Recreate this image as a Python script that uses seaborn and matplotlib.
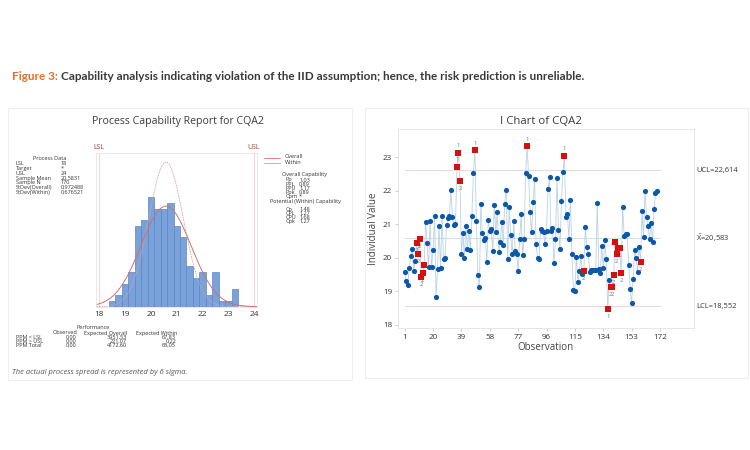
import numpy as np
import matplotlib
matplotlib.use("Agg")
import matplotlib.pyplot as plt
import seaborn as sns
from matplotlib.patches import Rectangle

# ---- data ----
cqa2 = [19.56, 19.30, 19.19, 19.68, 20.04, 20.25, 19.61, 19.90, 20.44, 20.11,
        20.56, 19.43, 19.55, 19.77, 21.07, 20.44, 19.71, 21.10, 19.72, 20.23,
        21.24, 18.84, 19.66, 20.94, 19.68, 21.24, 19.97, 19.98, 20.97, 21.18,
        21.26, 22.04, 21.21, 20.98, 21.01, 22.72, 23.13, 22.29, 20.11, 20.75,
        20.00, 20.96, 20.25, 20.79, 20.23, 21.24, 22.54, 23.21, 21.11, 19.47,
        19.12, 21.61, 20.73, 20.53, 20.60, 19.88, 21.13, 20.79, 20.85, 20.19,
        21.59, 20.76, 21.36, 20.16, 20.47, 21.07, 20.38, 21.62, 22.03, 19.96,
        21.51, 20.68, 20.10, 21.11, 20.21, 20.10, 19.59, 20.56, 21.30, 20.07,
        20.56, 22.53, 23.33, 22.45, 21.38, 20.76, 21.67, 22.36, 20.42, 19.99,
        19.97, 20.86, 20.81, 20.76, 20.40, 20.81, 22.06, 22.41, 20.81, 20.88,
        19.84, 20.56, 22.39, 20.84, 20.25, 21.69, 22.55, 23.04, 21.22, 21.32,
        20.57, 21.73, 20.12, 19.05, 19.02, 20.03, 19.27, 19.59, 20.06, 19.52,
        19.60, 20.92, 20.33, 20.12, 19.56, 19.64, 19.63, 19.63, 19.64, 21.65,
        19.66, 19.55, 20.34, 19.69, 20.52, 19.96, 18.47, 19.34, 19.13, 19.13,
        19.49, 20.47, 20.10, 20.30, 20.28, 19.53, 21.53, 20.66, 20.70, 20.72,
        19.79, 19.07, 18.64, 19.38, 20.24, 19.99, 19.57, 20.33, 19.88, 21.41,
        20.63, 22.01, 21.22, 20.94, 20.56, 21.05, 20.47, 21.45, 21.93, 22.00]

# failed tests: observation -> test number
flags = {9: "2", 10: "2", 11: "2", 12: "2", 13: "2", 14: "2",
         36: "1", 37: "1", 38: "2", 48: "1", 83: "1", 108: "1", 121: "2",
         137: "1", 139: "2", 140: "2", 141: "2", 142: "2", 143: "2",
         144: "2", 145: "2", 146: "2", 159: "2"}

ucl, xbar, lcl = 22.614, 20.583, 18.552
obs_ticks = [1, 20, 39, 58, 77, 96, 115, 134, 153, 172]

lsl, usl = 18, 24
mean_cqa2 = 20.5831
sd_overall = 0.972488
sd_within = 0.676521
bin_centers = [18.5, 18.75, 19.0, 19.25, 19.5, 19.75, 20.0, 20.25, 20.5, 20.75,
               21.0, 21.25, 21.5, 21.75, 22.0, 22.25, 22.5, 22.75, 23.0, 23.25]
bin_counts = [1, 2, 4, 6, 14, 15, 19, 17, 17, 18, 14, 12, 7, 5, 6, 2, 6, 1, 1, 3]

process_labels = ["LSL", "Target", "USL", "Sample Mean", "Sample N",
                  "StDev(Overall)", "StDev(Within)"]
process_values = ["18", "*", "24", "20,5831", "170", "0,972488", "0,676521"]
overall_labels = ["Pp", "PPL", "PPU", "Ppk", "Cpm"]
overall_values = ["1,03", "0,89", "1,17", "0,89", "*"]
within_labels = ["Cp", "CPL", "CPU", "Cpk"]
within_values = ["1,48", "1,27", "1,68", "1,27"]
perf_rows = ["PPM < LSL", "PPM > USL", "PPM Total"]
perf_observed = ["0,00", "0,00", "0,00"]
perf_exp_overall = ["3951,53", "221,07", "4172,60"]
perf_exp_within = ["67,83", "0,22", "68,05"]

W, H = 750, 450
sns.set_theme(style="white")
plt.rcParams["font.family"] = ["Open Sans", "DejaVu Sans"]

fig = plt.figure(figsize=(W / 100, H / 100), dpi=100)
fig.patch.set_facecolor("white")
SMALL = 4.0


def rect(x0, y0, x1, y1):
    return [x0 / W, 1 - y1 / H, (x1 - x0) / W, (y1 - y0) / H]


def ftext(x, y, s, **kw):
    kw.setdefault("va", "center")
    kw.setdefault("color", "#333333")
    kw.setdefault("fontsize", SMALL)
    return fig.text(x / W, 1 - y / H, s, **kw)


# panel frames
for x0, y0, x1, y1 in [(8, 108, 352, 380), (365, 108, 748, 378)]:
    fig.patches.append(Rectangle((x0 / W, 1 - y1 / H), (x1 - x0) / W, (y1 - y0) / H,
                                 transform=fig.transFigure, fill=False,
                                 edgecolor="#efefef", linewidth=0.8))

# figure caption
cap1 = ftext(12, 76, "Figure 3:", color="#e2702e", fontsize=8.5,
             fontweight="bold", family=["Lato", "DejaVu Sans"])
fig.canvas.draw()
bb = cap1.get_window_extent()
ftext(bb.x1 + 3, 76, "Capability analysis indicating violation of the IID assumption; "
      "hence, the risk prediction is unreliable.", color="#3a3a3a", fontsize=8.5,
      fontweight="bold", family=["Lato", "DejaVu Sans"])

# ---- capability histogram ----
ftext(178, 121, "Process Capability Report for CQA2", ha="center", fontsize=7.6,
      color="#3c3c3c")
axh = fig.add_axes(rect(96, 152.7, 256.7, 306.7))
sns.histplot(x=bin_centers, weights=bin_counts, binwidth=0.25, binrange=(18.375, 23.375),
             color="#7aa2da", edgecolor="#5d85c2", linewidth=0.5, alpha=1, ax=axh)
grid = np.linspace(17.8, 24.2, 400)
scale = sum(bin_counts) * 0.25
for sd, col, ls, lw in [(sd_within, "#c9a9ad", (0, (2, 1)), 0.6),
                        (sd_overall, "#cf6f76", "-", 0.7)]:
    pdf = np.exp(-0.5 * ((grid - mean_cqa2) / sd) ** 2) / (sd * np.sqrt(2 * np.pi))
    sns.lineplot(x=grid, y=pdf * scale, color=col, linestyle=ls, linewidth=lw, ax=axh)
for v in (lsl, usl):
    axh.axvline(v, color="#efd6d8", linewidth=0.8, zorder=0)
axh.set_xlim(17.87, 24.1)
axh.set_ylim(0, 26.7)
axh.set_xticks([18, 19, 20, 21, 22, 23, 24])
axh.set_yticks([])
axh.set_ylabel("")
axh.tick_params(axis="x", labelsize=6, length=0, pad=3, labelcolor="#333333")
for s in axh.spines.values():
    s.set_color("#e6e6e6")
    s.set_linewidth(0.6)
axh.text(lsl, 1.01, "LSL", transform=axh.get_xaxis_transform(), color="#b03a3a",
         fontsize=5, ha="center", va="bottom")
axh.text(usl, 1.01, "USL", transform=axh.get_xaxis_transform(), color="#b03a3a",
         fontsize=5, ha="center", va="bottom")

# process data block
ftext(50, 158, "Process Data", ha="center")
for i, (lab, val) in enumerate(zip(process_labels, process_values)):
    y = 163.7 + i * 4.77
    ftext(16, y, lab)
    ftext(61, y, val)

# legend + capability stats
for y, col, lab in [(157.5, "#cf6f76", "Overall"), (163, "#c9a9ad", "Within")]:
    fig.add_artist(plt.Line2D([264 / W, 280 / W], [1 - y / H, 1 - y / H], color=col,
                              linewidth=0.6))
    ftext(285, y - 0.5, lab)
ftext(305, 174.7, "Overall Capability", ha="center")
for i, (lab, val) in enumerate(zip(overall_labels, overall_values)):
    y = 180 + i * 4.1
    ftext(286, y, lab)
    ftext(299, y, val)
ftext(305, 201, "Potential (Within) Capability", ha="center")
for i, (lab, val) in enumerate(zip(within_labels, within_values)):
    y = 209.3 + i * 4.0
    ftext(286, y, lab)
    ftext(299, y, val)

# performance table
ftext(93, 327.5, "Performance", ha="center")
ftext(65, 333, "Observed", ha="center")
ftext(106, 333, "Expected Overall", ha="center")
ftext(157, 333, "Expected Within", ha="center")
for i, lab in enumerate(perf_rows):
    y = 337.3 + i * 4.0
    ftext(16, y, lab)
    ftext(77, y, perf_observed[i], ha="right")
    ftext(127, y, perf_exp_overall[i], ha="right")
    ftext(176, y, perf_exp_within[i], ha="right")

ftext(12, 372.5, "The actual process spread is represented by 6 sigma.", fontsize=5.4,
      style="italic", color="#555555")

# ---- I chart ----
ftext(541, 121, "I Chart of CQA2", ha="center", fontsize=8.2, color="#3c3c3c")
axi = fig.add_axes(rect(397.7, 129, 694, 328))
obs = np.arange(1, len(cqa2) + 1)
sns.lineplot(x=obs, y=cqa2, color="#b9d2ea", linewidth=0.6, ax=axi, zorder=2)
for val, col in [(ucl, "#ead9dc"), (xbar, "#d3e3df"), (lcl, "#ead9dc")]:
    axi.plot([1, 172], [val, val], color=col, linewidth=0.8, zorder=1)
normal = [i for i in range(len(cqa2)) if (i + 1) not in flags]
red = [i for i in range(len(cqa2)) if (i + 1) in flags]
sns.scatterplot(x=obs[normal], y=np.array(cqa2)[normal], color="#0b57a8", s=14,
                linewidth=0, ax=axi, zorder=3)
sns.scatterplot(x=obs[red], y=np.array(cqa2)[red], color="#d80f0f", marker="s", s=13,
                linewidth=0, ax=axi, zorder=4)
for i in red:
    lab = flags[i + 1]
    v = cqa2[i]
    if lab == "1" and v > xbar:
        axi.annotate(lab, (obs[i], v), xytext=(0, 3.5), textcoords="offset points",
                     ha="center", va="bottom", fontsize=4.2, color="#777777")
    else:
        axi.annotate(lab, (obs[i], v), xytext=(0, -3.5), textcoords="offset points",
                     ha="center", va="top", fontsize=4.2, color="#777777")
axi.set_xlim(-3.7, 194.8)
axi.set_ylim(17.9, 23.85)
axi.set_xticks(obs_ticks)
axi.set_yticks([18, 19, 20, 21, 22, 23])
axi.tick_params(labelsize=5.8, length=2, width=0.5, color="#bbbbbb", pad=2,
                labelcolor="#333333", bottom=True, left=True)
axi.set_xlabel("Observation", fontsize=7, color="#444444", labelpad=1)
axi.set_ylabel("Individual Value", fontsize=7, color="#444444", labelpad=3)
for s in axi.spines.values():
    s.set_color("#e3e3e3")
    s.set_linewidth(0.6)
for val, lab in [(ucl, "UCL=22,614"), (xbar, r"$\bar{\mathregular{X}}$=20,583"),
                 (lcl, "LCL=18,552")]:
    axi.text(1.008, val, lab, transform=axi.get_yaxis_transform(), fontsize=5.4,
             va="center", ha="left", color="#333333")

fig.savefig("out.png", dpi=100, facecolor="white")
